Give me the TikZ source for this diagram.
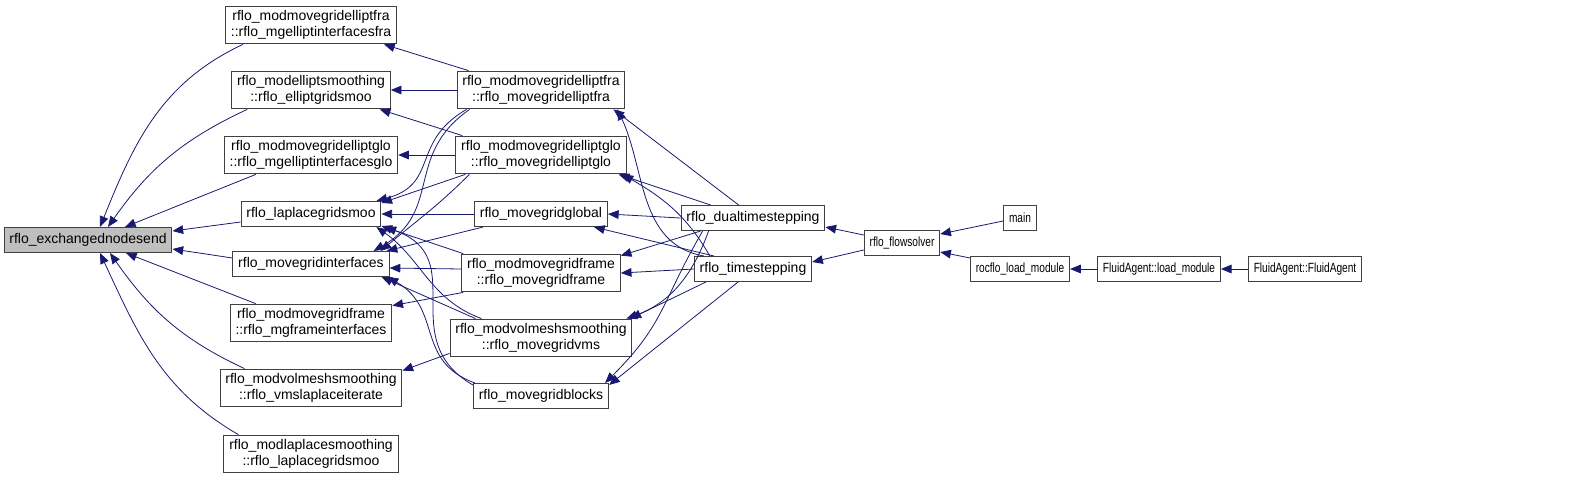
\documentclass[tikz,border=0pt]{standalone}
\usepackage{fontspec}
\setmainfont{Liberation Sans}
\newfontfamily\narrowsans[FakeStretch=0.76]{Liberation Sans}
\usetikzlibrary{arrows.meta, calc}
\definecolor{EdgeBlue}{RGB}{25,25,112}
\definecolor{FocusGray}{RGB}{191,191,191}

\begin{document}
\begin{tikzpicture}[x=0.75pt, y=0.75pt, >={Triangle[length=8pt,width=6.5pt]},
        fn/.style={draw=black!75, line width=0.8pt, fill=white, align=center,
            font=\fontsize{10.5}{12.5}\selectfont, inner xsep=4pt, inner ysep=3pt,
            minimum height=18.75pt},
        narrowfn/.style={fn, font=\narrowsans\fontsize{10}{12}\selectfont},
        calledge/.style={<-, EdgeBlue, line width=0.6pt}]
        \useasboundingbox (0,0) rectangle (1587,480);

        % Function of interest
        \node[fn, fill=FocusGray] (exch) at (88,240) {rflo\_exchangednodesend};

        % Direct callers
        \node[fn] (mgifra) at (311,455) {rflo\_modmovegridelliptfra\\::rflo\_mgelliptinterfacesfra};
        \node[fn] (egsmoo) at (311,390) {rflo\_modelliptsmoothing\\::rflo\_elliptgridsmoo};
        \node[fn] (mgiglo) at (311,325) {rflo\_modmovegridelliptglo\\::rflo\_mgelliptinterfacesglo};
        \node[fn] (lapsmoo) at (311,266) {rflo\_laplacegridsmoo};
        \node[fn] (mgint) at (311,216) {rflo\_movegridinterfaces};
        \node[fn] (mgfint) at (311,157) {rflo\_modmovegridframe\\::rflo\_mgframeinterfaces};
        \node[fn] (vmslap) at (311,92) {rflo\_modvolmeshsmoothing\\::rflo\_vmslaplaceiterate};
        \node[fn] (modlap) at (311,26) {rflo\_modlaplacesmoothing\\::rflo\_laplacegridsmoo};

        % Grid movement
        \node[fn] (mvfra) at (541,390) {rflo\_modmovegridelliptfra\\::rflo\_movegridelliptfra};
        \node[fn] (mvglo) at (541,325) {rflo\_modmovegridelliptglo\\::rflo\_movegridelliptglo};
        \node[fn] (mvglobal) at (541,266) {rflo\_movegridglobal};
        \node[fn] (mvframe) at (541,207) {rflo\_modmovegridframe\\::rflo\_movegridframe};
        \node[fn] (mvvms) at (541,142) {rflo\_modvolmeshsmoothing\\::rflo\_movegridvms};
        \node[fn] (mvblocks) at (541,84) {rflo\_movegridblocks};

        % Time stepping
        \node[fn] (dualts) at (753,262) {rflo\_dualtimestepping};
        \node[fn] (ts) at (753,211) {rflo\_timestepping};

        % Solver and drivers
        \node[narrowfn] (solver) at (902,237) {rflo\_flowsolver};
        \node[narrowfn] (main) at (1020,262) {main};
        \node[narrowfn] (loadmod) at (1020,211) {rocflo\_load\_module};
        \node[narrowfn] (faload) at (1159,211) {FluidAgent::load\_module};
        \node[narrowfn] (fainit) at (1305,211) {FluidAgent::FluidAgent};

        % Arrows into exch
        \draw[calledge] ($(exch.north)+(12,0)$) to[out=68,in=205] ($(mgifra.south west)+(18,0)$);
        \draw[calledge] ($(exch.north)+(20,0)$) to[out=55,in=205] ($(egsmoo.south west)+(16,0)$);
        \draw[calledge] ($(exch.north)+(37,0)$) -- ($(mgiglo.south west)+(32,0)$);
        \draw[calledge] ($(exch.east)+(0,9)$) -- ($(lapsmoo.west)+(0,-8)$);
        \draw[calledge] ($(exch.east)+(0,-9)$) -- ($(mgint.west)+(0,6)$);
        \draw[calledge] ($(exch.south)+(38,0)$) -- ($(mgfint.north west)+(26,0)$);
        \draw[calledge] ($(exch.south)+(22,0)$) to[out=-55,in=155] ($(vmslap.north west)+(25,0)$);
        \draw[calledge] ($(exch.south)+(12,0)$) to[out=-65,in=150] ($(modlap.north west)+(15,0)$);

        % Arrows into the direct callers
        \draw[calledge] ($(mgifra.south east)+(-13,0)$) -- ($(mvfra.north west)+(12,0)$);
        \draw[calledge] (egsmoo.east) -- (mvfra.west);
        \draw[calledge] ($(egsmoo.south east)+(-11,0)$) -- ($(mvglo.north west)+(7,0)$);
        \draw[calledge] (mgiglo.east) -- (mvglo.west);
        \draw[calledge] ($(lapsmoo.north east)+(-5,0)$) to[out=15,in=210,looseness=1.3] ($(mvfra.south west)+(10,0)$);
        \draw[calledge] ($(lapsmoo.north east)+(0,-2)$) -- ($(mvglo.south west)+(10,0)$);
        \draw[calledge] (lapsmoo.east) -- (mvglobal.west);
        \draw[calledge] ($(lapsmoo.south east)+(0,1)$) -- ($(mvframe.north west)+(2,0)$);
        \draw[calledge] ($(lapsmoo.south east)+(-5,0)$) to[out=-35,in=160] ($(mvvms.north west)+(32,0)$);
        \draw[calledge] ($(lapsmoo.south east)+(4,0)$) to[out=-20,in=150,looseness=1.3] ($(mvblocks.north west)+(0,-2)$);
        \draw[calledge] ($(mgint.north east)+(-16,0)$) to[out=30,in=215,looseness=1.2] ($(mvfra.south west)+(13,0)$);
        \draw[calledge] ($(mgint.north east)+(-9,0)$) to[out=40,in=225] ($(mvglo.south west)+(14,0)$);
        \draw[calledge] ($(mgint.north east)+(-3,0)$) -- ($(mvglobal.south west)+(9,0)$);
        \draw[calledge] ($(mgint.east)+(0,-4)$) -- ($(mvframe.west)+(0,4)$);
        \draw[calledge] ($(mgint.south east)+(-8,0)$) -- ($(mvvms.north west)+(26,0)$);
        \draw[calledge] ($(mgint.south east)+(-2,0)$) to[out=-30,in=160,looseness=1.2] ($(mvblocks.north west)+(2,0)$);
        \draw[calledge] ($(mgfint.north east)+(0,-2)$) -- ($(mvframe.south west)+(2,0)$);
        \draw[calledge] ($(vmslap.north east)+(0,-2)$) -- ($(mvvms.south west)+(0,4)$);

        % Arrows from time stepping
        \draw[calledge] ($(mvfra.south east)+(-12,0)$) -- ($(dualts.north west)+(58,0)$);
        \draw[calledge] ($(mvfra.south east)+(-8,0)$) to[out=-65,in=170] ($(ts.north west)+(10,0)$);
        \draw[calledge] ($(mvglo.south east)+(-8,0)$) -- ($(dualts.north west)+(30,0)$);
        \draw[calledge] ($(mvglo.south east)+(-4,0)$) to[out=-30,in=120] ($(ts.north west)+(16,0)$);
        \draw[calledge] (mvglobal.east) -- (dualts.west);
        \draw[calledge] ($(mvglobal.south east)+(-14,0)$) -- ($(ts.north west)+(20,0)$);
        \draw[calledge] ($(mvframe.north east)+(0,-2)$) -- ($(dualts.south west)+(20,0)$);
        \draw[calledge] (mvframe.east) -- (ts.west);
        \draw[calledge] ($(mvvms.north east)+(-6,0)$) to[out=20,in=250] ($(dualts.south west)+(28,0)$);
        \draw[calledge] ($(mvvms.north east)+(-2,0)$) -- ($(ts.south west)+(12,0)$);
        \draw[calledge] ($(mvblocks.north east)+(-4,0)$) to[out=45,in=240,looseness=1.2] ($(dualts.south west)+(22,0)$);
        \draw[calledge] ($(mvblocks.north east)+(0,-2)$) -- ($(ts.south)+(-15,0)$);

        % Arrows into time stepping
        \draw[calledge] ($(dualts.east)+(0,-9)$) -- ($(solver.west)+(0,8)$);
        \draw[calledge] ($(ts.east)+(0,7)$) -- ($(solver.west)+(0,-7)$);

        % Solver callers
        \draw[calledge] ($(solver.east)+(0,9)$) -- ($(main.west)+(0,-3)$);
        \draw[calledge] ($(solver.east)+(0,-9)$) -- ($(loadmod.north west)+(0,-2)$);
        \draw[calledge] (loadmod.east) -- (faload.west);
        \draw[calledge] (faload.east) -- (fainit.west);
    \end{tikzpicture}
\end{document}
